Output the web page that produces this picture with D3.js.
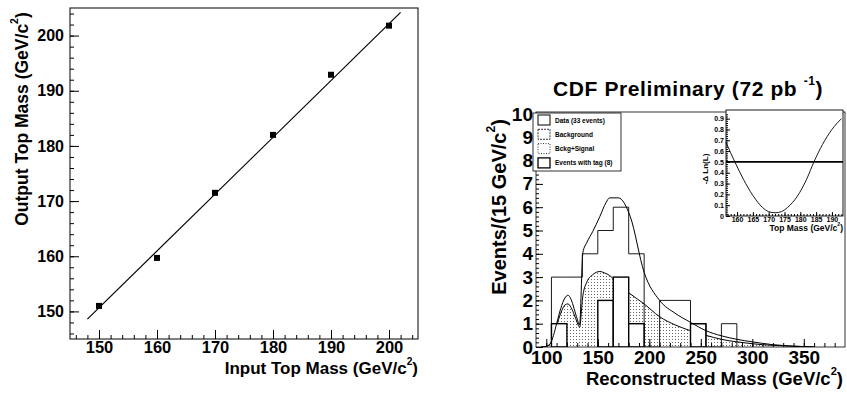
<!DOCTYPE html>
<html>
<head>
<meta charset="utf-8">
<script src="https://cdn.jsdelivr.net/npm/d3@7"></script>
<style>
body { margin: 0; background: #fff; }
svg text { font-family: "Liberation Sans", Arial, sans-serif; font-weight: bold; fill: #000; }
.axis path { display: none; }
.axis line { stroke: #000; }
</style>
</head>
<body>
<svg width="847" height="394"></svg>
<script>
// left panel: mass calibration
var inputMass = [150, 160, 170, 180, 190, 200];
var outputMass = [151, 159.7, 171.5, 182, 192.9, 201.8];
var fitInput = [148, 202];
var fitOutput = [148.6, 204.2];
var calibTicks = [150, 160, 170, 180, 190, 200];

// right panel: reconstructed mass histogram (15 GeV bins from 105)
var binStart = 105, binWidth = 15;
var dataCounts = [3, 3, 4, 5, 6, 4, 0, 2, 2, 1, 0, 1];
var tagCounts = [1, 0, 0, 2, 3, 1, 0, 0, 0, 1, 0, 0];

var curveMass = [95, 100, 104, 107, 110, 114, 118, 121, 124, 127, 130, 132.3, 135.5, 139.5, 145, 152, 158, 161.5, 170, 181.5, 195, 210, 225, 240, 255, 270, 285, 300, 320, 340, 360];
var bkgValue  = [0, 0.03, 0.15, 0.45, 0.9, 1.45, 1.8, 1.85, 1.7, 1.4, 1.05, 0.85, 2.2, 2.8, 3.1, 3.24, 3.15, 3.07, 2.7, 2.28, 1.85, 1.3, 0.95, 0.7, 0.5, 0.33, 0.22, 0.14, 0.07, 0.03, 0];
var sigValue  = [0, 0.03, 0.15, 0.5, 1.0, 1.65, 2.1, 2.22, 2.05, 1.65, 1.2, 0.95, 4.05, 4.5, 4.95, 5.6, 6.2, 6.4, 6.4, 5.6, 3.2, 2.0, 1.45, 1.06, 0.7, 0.48, 0.33, 0.22, 0.1, 0.04, 0];
var histXTicks = [100, 150, 200, 250, 300, 350];
var histYTicks = [0, 1, 2, 3, 4, 5, 6, 7, 8, 9, 10];

// inset: likelihood
var likeMass = [156.5, 159.3, 162, 165, 168, 170, 172, 174, 176, 179, 182, 184.3, 187, 190, 193];
var likeValue = [0.68, 0.5, 0.34, 0.19, 0.08, 0.04, 0.03, 0.04, 0.08, 0.18, 0.34, 0.5, 0.66, 0.8, 0.9];
var likeCut = 0.5;
var insetXTicks = [160, 165, 170, 175, 180, 185, 190];
var insetYTicks = [0, 0.1, 0.2, 0.3, 0.4, 0.5, 0.6, 0.7, 0.8, 0.9];

var legendItems = [
  { label: "Data (33 events)", dash: null, width: 1 },
  { label: "Background", dash: "2,1", width: 0.8 },
  { label: "Bckg+Signal", dash: "1,1.5", width: 0.8 },
  { label: "Events with tag (8)", dash: null, width: 1.3 }
];

var svg = d3.select("svg");
svg.append("rect").attr("width", 847).attr("height", 394).attr("fill", "#fff");

function supText(g, x, y, size, before, sup, after, anchor, rotate) {
  var t = g.append("text")
    .attr("font-size", size)
    .attr("text-anchor", anchor || "start");
  if (rotate) t.attr("transform", "translate(" + x + "," + y + ") rotate(-90)");
  else t.attr("x", x).attr("y", y);
  t.append("tspan").text(before);
  t.append("tspan").attr("font-size", size * 0.6).attr("dy", -size * 0.55).text(sup);
  t.append("tspan").attr("dy", size * 0.55).text(after);
  return t;
}

function styleAxis(sel, size) {
  sel.attr("font-size", null).attr("font-family", null);
  sel.selectAll("text").attr("font-size", size);
}

// ---------- left panel ----------
var lx = d3.scaleLinear().domain([145, 205]).range([70, 418]);
var ly = d3.scaleLinear().domain([145, 205]).range([339, 8]);
var left = svg.append("g");

left.append("rect")
  .attr("x", 70).attr("y", 8).attr("width", 348).attr("height", 331)
  .attr("fill", "none").attr("stroke", "#000").attr("stroke-width", 1);

left.append("g").attr("class", "axis").attr("transform", "translate(0,339)")
  .call(d3.axisBottom(lx).tickValues(d3.range(146, 205, 2)).tickSize(-4).tickFormat(""));
left.append("g").attr("class", "axis").attr("transform", "translate(0,339)")
  .call(d3.axisBottom(lx).tickValues(calibTicks).tickSize(-9).tickPadding(2).tickFormat(d3.format("d")))
  .call(styleAxis, 16.5);
left.append("g").attr("class", "axis").attr("transform", "translate(70,0)")
  .call(d3.axisLeft(ly).tickValues(d3.range(146, 205, 2)).tickSize(-4).tickFormat(""));
left.append("g").attr("class", "axis").attr("transform", "translate(70,0)")
  .call(d3.axisLeft(ly).tickValues(calibTicks).tickSize(-9).tickPadding(6).tickFormat(d3.format("d")))
  .call(styleAxis, 16);

left.append("path")
  .datum(d3.zip(fitInput, fitOutput))
  .attr("fill", "none").attr("stroke", "#000").attr("stroke-width", 1.2)
  .attr("d", d3.line().x(function (d) { return lx(d[0]); }).y(function (d) { return ly(d[1]); }));

left.selectAll(".pt")
  .data(d3.zip(inputMass, outputMass))
  .enter().append("rect")
  .attr("class", "pt")
  .attr("x", function (d) { return lx(d[0]) - 3; })
  .attr("y", function (d) { return ly(d[1]) - 3; })
  .attr("width", 6).attr("height", 6).attr("fill", "#000");

supText(left, 418, 374, 17, "Input Top Mass (GeV/c", "2", ")", "end");
supText(left, 28, 119, 17.5, "Output Top Mass (GeV/c", "2", ")", "middle", true);

// ---------- right panel ----------
var rx = d3.scaleLinear().domain([90, 390]).range([536, 845]);
var ry = d3.scaleLinear().domain([0, 10]).range([347, 114]);
var right = svg.append("g");

var defs = svg.append("defs");
var pat = defs.append("pattern").attr("id", "dots")
  .attr("patternUnits", "userSpaceOnUse").attr("width", 3).attr("height", 3);
pat.append("rect").attr("width", 1).attr("height", 1).attr("fill", "#666");
defs.append("clipPath").attr("id", "frameClip")
  .append("rect").attr("x", 536).attr("y", 112).attr("width", 309).attr("height", 235);

var curvePts = function (vals) { return d3.zip(curveMass, vals); };
var plot = right.append("g").attr("clip-path", "url(#frameClip)");

plot.append("path")
  .datum(curvePts(bkgValue))
  .attr("fill", "url(#dots)")
  .attr("d", d3.area().curve(d3.curveMonotoneX)
    .x(function (d) { return rx(d[0]); }).y0(ry(0)).y1(function (d) { return ry(d[1]); }));
plot.append("path")
  .datum(curvePts(bkgValue))
  .attr("fill", "none").attr("stroke", "#000").attr("stroke-width", 1)
  .attr("d", d3.line().curve(d3.curveMonotoneX)
    .x(function (d) { return rx(d[0]); }).y(function (d) { return ry(d[1]); }));

var tagBins = tagCounts.map(function (c, i) { return { x0: binStart + i * binWidth, c: c }; })
  .filter(function (d) { return d.c > 0; });
plot.selectAll(".tag")
  .data(tagBins)
  .enter().append("rect")
  .attr("class", "tag")
  .attr("x", function (d) { return rx(d.x0); })
  .attr("y", function (d) { return ry(d.c); })
  .attr("width", function (d) { return rx(d.x0 + binWidth) - rx(d.x0); })
  .attr("height", function (d) { return ry(0) - ry(d.c); })
  .attr("fill", "#fff").attr("stroke", "#000").attr("stroke-width", 1.4);

var dataPts = [[binStart, 0]].concat(dataCounts.map(function (c, i) { return [binStart + i * binWidth, c]; }))
  .concat([[binStart + dataCounts.length * binWidth, 0]]);
plot.append("path")
  .datum(dataPts)
  .attr("fill", "none").attr("stroke", "#000").attr("stroke-width", 0.9)
  .attr("d", d3.line().curve(d3.curveStepAfter)
    .x(function (d) { return rx(d[0]); }).y(function (d) { return ry(d[1]); }));

plot.append("path")
  .datum(curvePts(sigValue))
  .attr("fill", "none").attr("stroke", "#000").attr("stroke-width", 1)
  .attr("d", d3.line().curve(d3.curveMonotoneX)
    .x(function (d) { return rx(d[0]); }).y(function (d) { return ry(d[1]); }));

right.append("rect")
  .attr("x", 536).attr("y", 112).attr("width", 309).attr("height", 235)
  .attr("fill", "none").attr("stroke", "#000").attr("stroke-width", 0.8);

right.append("g").attr("class", "axis").attr("transform", "translate(0,347)")
  .call(d3.axisBottom(rx).tickValues(d3.range(100, 390, 10)).tickSize(-4).tickFormat(""));
right.append("g").attr("class", "axis").attr("transform", "translate(0,347)")
  .call(d3.axisBottom(rx).tickValues(histXTicks).tickSize(-8).tickPadding(4).tickFormat(d3.format("d")))
  .call(styleAxis, 19);
right.append("g").attr("class", "axis").attr("transform", "translate(536,0)")
  .call(d3.axisLeft(ry).tickValues(d3.range(0, 10.01, 0.2)).tickSize(-3).tickFormat(""));
right.append("g").attr("class", "axis").attr("transform", "translate(536,0)")
  .call(d3.axisLeft(ry).tickValues(histYTicks).tickSize(-7).tickPadding(3).tickFormat(d3.format("d")))
  .call(styleAxis, 19);

supText(right, 843, 385, 18.5, "Reconstructed Mass (GeV/c", "2", ")", "end");
supText(right, 506, 207, 20, "Events/(15 GeV/c", "2", ")", "middle", true);

var title = right.append("text").attr("x", 553).attr("y", 96).attr("font-size", 21)
  .attr("letter-spacing", 0.6);
title.append("tspan").text("CDF Preliminary (72 pb  ");
title.append("tspan").attr("font-size", 12).attr("dy", -11).text("-1");
title.append("tspan").attr("dy", 11).text(")");

// legend
var leg = right.append("g");
leg.append("rect").attr("x", 533).attr("y", 113).attr("width", 88).attr("height", 58)
  .attr("fill", "#fff").attr("stroke", "#000").attr("stroke-width", 0.8);
var legRow = leg.selectAll(".lr").data(legendItems).enter().append("g")
  .attr("class", "lr")
  .attr("transform", function (d, i) { return "translate(538," + (115 + i * 14.3) + ")"; });
legRow.append("rect").attr("width", 12).attr("height", 10)
  .attr("fill", "#fff").attr("stroke", "#000")
  .attr("stroke-width", function (d) { return d.width; })
  .attr("stroke-dasharray", function (d) { return d.dash; });
legRow.append("text").attr("x", 17).attr("y", 7.5).attr("font-size", 6.5)
  .text(function (d) { return d.label; });

// ---------- inset ----------
var ix = d3.scaleLinear().domain([156.5, 193.5]).range([726, 843]);
var iy = d3.scaleLinear().domain([0, 0.98]).range([216, 110]);
var inset = right.append("g");
inset.append("rect").attr("x", 726).attr("y", 110).attr("width", 117).attr("height", 106)
  .attr("fill", "#fff").attr("stroke", "#000").attr("stroke-width", 0.9);

inset.append("g").attr("class", "axis").attr("transform", "translate(0,216)")
  .call(d3.axisBottom(ix).tickValues(d3.range(157, 194, 1)).tickSize(-2).tickFormat(""));
inset.append("g").attr("class", "axis").attr("transform", "translate(0,216)")
  .call(d3.axisBottom(ix).tickValues(insetXTicks).tickSize(-4).tickPadding(1).tickFormat(d3.format("d")))
  .call(styleAxis, 7);
inset.append("g").attr("class", "axis").attr("transform", "translate(726,0)")
  .call(d3.axisLeft(iy).tickValues(d3.range(0, 0.96, 0.02)).tickSize(-2).tickFormat(""));
inset.append("g").attr("class", "axis").attr("transform", "translate(726,0)")
  .call(d3.axisLeft(iy).tickValues(insetYTicks).tickSize(-4).tickPadding(2).tickFormat(d3.format("")))
  .call(styleAxis, 7);

inset.append("line")
  .attr("x1", ix(156.5)).attr("x2", ix(193.5))
  .attr("y1", iy(likeCut)).attr("y2", iy(likeCut))
  .attr("stroke", "#000").attr("stroke-width", 1.6);
inset.append("path")
  .datum(d3.zip(likeMass, likeValue))
  .attr("fill", "none").attr("stroke", "#000").attr("stroke-width", 0.9)
  .attr("d", d3.line().curve(d3.curveMonotoneX)
    .x(function (d) { return ix(d[0]); }).y(function (d) { return iy(d[1]); }));

inset.append("text")
  .attr("transform", "translate(708,169) rotate(-90)")
  .attr("text-anchor", "middle").attr("font-size", 8).attr("font-weight", "normal")
  .text("-\u0394 Ln(L)");
supText(inset, 843, 231, 8.5, "Top Mass (GeV/c", "2", ")", "end");
</script>
</body>
</html>
